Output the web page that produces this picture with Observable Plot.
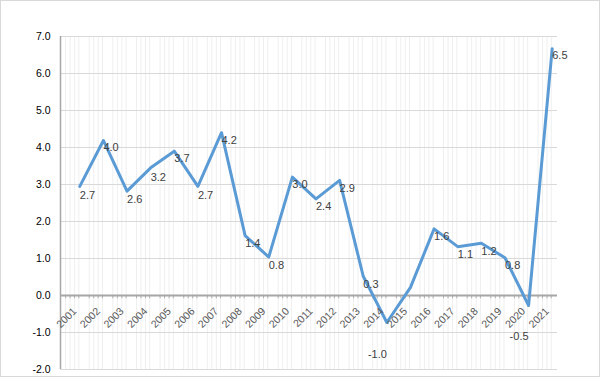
<!DOCTYPE html>
<html>
<head>
<meta charset="utf-8">
<script src="https://cdn.jsdelivr.net/npm/d3@7"></script>
<script src="https://cdn.jsdelivr.net/npm/@observablehq/plot@0.6"></script>
<style>
  html, body { margin: 0; padding: 0; background: #fff; }
  #chart { width: 600px; height: 377px; box-sizing: border-box; border: 1px solid #d9d9d9; overflow: hidden; }
  #chart svg { display: block; }
</style>
</head>
<body>
<div id="chart"></div>
<script>
const years = [2001,2002,2003,2004,2005,2006,2007,2008,2009,2010,2011,2012,2013,2014,2015,2016,2017,2018,2019,2020,2021];
const lineValues = [2.95,4.19,2.82,3.45,3.9,2.95,4.4,1.62,1.04,3.2,2.61,3.11,0.52,-0.73,0.22,1.8,1.32,1.41,1.02,-0.27,6.67];
const labelValues = [2.7,4.0,2.6,3.2,3.7,2.7,4.2,1.4,0.8,3.0,2.4,2.9,0.3,-1.0,null,1.6,1.1,1.2,0.8,-0.5,6.5];
const yTicks = [-2,-1,0,1,2,3,4,5,6,7];

const data = years.map((yr, i) => ({year: yr, value: lineValues[i], label: labelValues[i]}));
const minorOffsets = [-0.6, -0.41, -0.22, -0.04];
const minor = years.flatMap(yr => minorOffsets.map(o => yr + o));

const font = "Liberation Sans, Arial, sans-serif";

const plot = Plot.plot({
  width: 598,
  height: 375,
  marginTop: 35,
  marginBottom: 7,
  marginLeft: 59,
  marginRight: 42,
  style: {fontFamily: font, fontSize: "10.5px", background: "transparent"},
  x: {type: "linear", domain: [2000.184, 2021.224], axis: null},
  y: {domain: [-2, 7], ticks: yTicks, tickFormat: d => d.toFixed(1), tickSize: 0, tickPadding: 10, label: null, color: "#595959"},
  marks: [
    Plot.ruleX(minor, {x: d => d, y1: -2, y2: 7, stroke: "#efefef", strokeWidth: 1}),
    Plot.ruleY(yTicks.filter(d => d !== 0), {stroke: "#d9d9d9", strokeWidth: 1}),
    Plot.ruleX([2000.184], {y1: -2, y2: 7, stroke: "#a6a6a6", strokeWidth: 1.5}),
    Plot.ruleX(minor, {x: d => d, y1: 0, y2: -0.09, stroke: "#b0b0b0", strokeWidth: 1}),
    Plot.ruleY([0], {stroke: "#a6a6a6", strokeWidth: 2}),
    Plot.line(data, {x: "year", y: "value", stroke: "#5b9bd5", strokeWidth: 3, strokeLinejoin: "round"}),
    Plot.text(data.filter(d => d.label != null && d.label >= 0), {
      x: "year", y: "label", text: d => d.label.toFixed(1),
      textAnchor: "start", fill: "#404040", fontSize: 11
    }),
    Plot.text(data.filter(d => d.label != null && d.label < 0), {
      x: "year", y: "label", text: d => d.label.toFixed(1),
      textAnchor: "end", dy: 22, fill: "#404040", fontSize: 11
    }),
    Plot.text(years, {
      x: d => d, y: () => 0, text: d => String(d),
      rotate: -45, textAnchor: "end", lineAnchor: "middle",
      dx: -5, dy: 14, fill: "#595959", fontSize: 10.5
    })
  ]
});

document.getElementById("chart").appendChild(plot);
</script>
</body>
</html>
